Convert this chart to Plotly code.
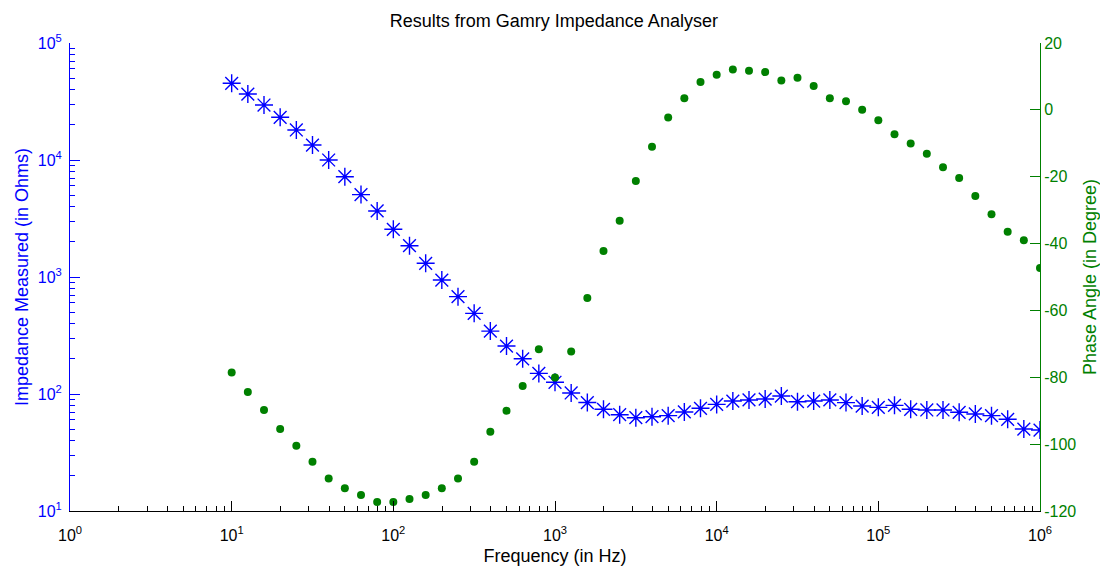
import plotly.graph_objects as go

# Frequencies (Hz), 10 points per decade
freq = [10, 12.59, 15.85, 19.95, 25.12, 31.62, 39.81, 50.12, 63.1, 79.43,
        100, 125.9, 158.5, 199.5, 251.2, 316.2, 398.1, 501.2, 631, 794.3,
        1000, 1259, 1585, 1995, 2512, 3162, 3981, 5012, 6310, 7943,
        10000, 12590, 15850, 19950, 25120, 31620, 39810, 50120, 63100, 79430,
        100000, 125900, 158500, 199500, 251200, 316200, 398100, 501200, 631000, 794300,
        1000000]

# Impedance magnitude (Ohms)
impedance = [45250, 36640, 29510, 23180, 18050, 13430, 10000, 7200, 5060, 3668,
             2557, 1851, 1309, 942, 679, 489, 345, 257, 200, 150,
             126, 102, 84.5, 74, 66.5, 62.7, 64, 65.3, 70.2, 75.5,
             81.5, 87.1, 88.9, 90.6, 96.1, 85.9, 87.1, 88.9, 84.4, 78.9,
             76.9, 80, 74, 73, 73, 69.8, 67.5, 65.3, 60.8, 50.2,
             49.2]

# Phase angle (degrees)
phase = [-78.6, -84.4, -89.8, -95.5, -100.5, -105.3, -110.3, -113.2, -115.2, -117.3,
         -117.3, -116.4, -115.2, -113.2, -110.3, -105.3, -96.3, -90, -82.6, -71.6,
         -80.1, -72.3, -56.3, -42.2, -33.2, -21.3, -11, -2.3, 3.5, 8.3,
         10.5, 12.1, 11.7, 11.3, 8.8, 9.6, 7.1, 3.5, 2.6, 0,
         -3.1, -7.3, -10.1, -13.1, -17.2, -20.4, -25.8, -31.2, -36.5, -39,
         -47.3]

x_tickvals = [1, 10, 100, 1000, 10000, 100000, 1000000]
x_ticktext = ["10<sup>0</sup>", "10<sup>1</sup>", "10<sup>2</sup>", "10<sup>3</sup>",
              "10<sup>4</sup>", "10<sup>5</sup>", "10<sup>6</sup>"]
y_tickvals = [10, 100, 1000, 10000, 100000]
y_ticktext = ["10<sup>1</sup>", "10<sup>2</sup>", "10<sup>3</sup>", "10<sup>4</sup>", "10<sup>5</sup>"]
y2_tickvals = [20, 0, -20, -40, -60, -80, -100, -120]
y2_ticktext = ["20", "0", "-20", "-40", "-60", "-80", "-100", "-120"]

BLUE = "#0000FF"
GREEN = "#008000"
FONT = "Liberation Sans, Arial, sans-serif"

x_minor = [m * 10 ** e for e in range(0, 6) for m in range(2, 10)]
y_minor = [m * 10 ** e for e in range(1, 5) for m in range(2, 10)]

fig = go.Figure()
fig.add_trace(go.Scatter(
    x=freq, y=impedance, mode="markers", name="Impedance",
    marker=dict(symbol="asterisk-open", size=15, color=BLUE,
                line=dict(color=BLUE, width=1.4)),
    yaxis="y", showlegend=False))
fig.add_trace(go.Scatter(
    x=freq, y=phase, mode="markers", name="Phase",
    marker=dict(symbol="circle", size=8, color=GREEN, line=dict(width=0)),
    yaxis="y2", showlegend=False))

fig.update_layout(
    width=1100, height=568,
    margin=dict(l=70, r=60, t=43, b=57, pad=0, autoexpand=False),
    paper_bgcolor="white", plot_bgcolor="white",
    font=dict(family=FONT, size=16, color="black"),
    title=dict(text="Results from Gamry Impedance Analyser", x=0.5035, xanchor="center",
               y=1 - 21 / 568, yanchor="middle", font=dict(size=18, color="black")),
    xaxis=dict(
        type="log", range=[0, 6], showgrid=False, zeroline=False, automargin=False,
        showline=True, linecolor="black", linewidth=1,
        ticks="inside", ticklen=10, tickcolor="black", tickwidth=1,
        tickmode="array", tickvals=x_tickvals, ticktext=x_ticktext,
        tickfont=dict(size=16, color="black"), ticklabelstandoff=10,
        minor=dict(tickmode="array", tickvals=x_minor, ticks="inside", ticklen=5,
                   tickcolor="black", tickwidth=1, showgrid=False),
        title=dict(text="Frequency (in Hz)", font=dict(size=18, color="black"), standoff=6),
    ),
    yaxis=dict(
        type="log", range=[1, 5], showgrid=False, zeroline=False, automargin=False,
        showline=True, linecolor=BLUE, linewidth=1,
        ticks="inside", ticklen=10, tickcolor=BLUE, tickwidth=1,
        tickmode="array", tickvals=y_tickvals, ticktext=y_ticktext,
        tickfont=dict(size=16, color=BLUE), ticklabelstandoff=4,
        minor=dict(tickmode="array", tickvals=y_minor, ticks="inside", ticklen=5,
                   tickcolor=BLUE, tickwidth=1, showgrid=False),
        title=dict(text="Impedance Measured (in Ohms)", font=dict(size=18, color=BLUE), standoff=4),
    ),
    yaxis2=dict(
        overlaying="y", side="right", anchor="x", automargin=False,
        range=[-120, 20], showgrid=False, zeroline=False,
        showline=True, linecolor=GREEN, linewidth=1,
        ticks="inside", ticklen=10, tickcolor=GREEN, tickwidth=1,
        tickmode="array", tickvals=y2_tickvals, ticktext=y2_ticktext,
        tickfont=dict(size=16, color=GREEN),
        title=dict(text="Phase Angle (in Degree)", font=dict(size=18, color=GREEN), standoff=16),
    ),
)

fig.write_html("out.html")
